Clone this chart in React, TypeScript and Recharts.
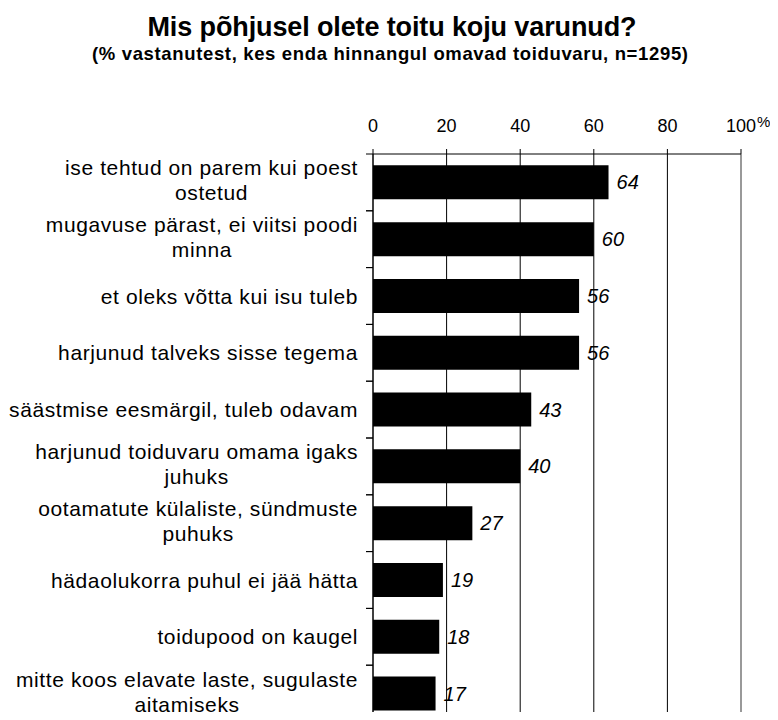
import React from 'react';
import { BarChart, Bar, XAxis, YAxis, CartesianGrid, LabelList, ReferenceLine } from 'recharts';

const titleText = 'Mis põhjusel olete toitu koju varunud?';
const subtitleText = '(% vastanutest, kes enda hinnangul omavad toiduvaru, n=1295)';

const categories: string[][] = [
  ['ise tehtud on parem kui poest', 'ostetud'],
  ['mugavuse pärast, ei viitsi poodi', 'minna'],
  ['et oleks võtta kui isu tuleb'],
  ['harjunud talveks sisse tegema'],
  ['säästmise eesmärgil, tuleb odavam'],
  ['harjunud toiduvaru omama igaks', 'juhuks'],
  ['ootamatute külaliste, sündmuste', 'puhuks'],
  ['hädaolukorra puhul ei jää hätta'],
  ['toidupood on kaugel'],
  ['mitte koos elavate laste, sugulaste', 'aitamiseks'],
];
const values = [64, 60, 56, 56, 43, 40, 27, 19, 18, 17];
const xTicks = [0, 20, 40, 60, 80, 100];
const unitLabel = '%';

const data = categories.map((lines, i) => ({ name: lines.join('\n'), value: values[i] }));

const FONT = '"Liberation Sans", Arial, sans-serif';
const LABEL_SIZE = 21;
const LABEL_LS = 0.6;

const CW = 770;
const CH = 724;
const MT = 116;
const MB = 10;
const XH = 30;
const BAND = (CH - MT - MB - XH) / categories.length;

if (typeof document !== 'undefined') {
  document.documentElement.style.overflow = 'hidden';
}

let ctx: CanvasRenderingContext2D | null = null;
function measure(text: string): number {
  if (!ctx) ctx = document.createElement('canvas').getContext('2d');
  if (!ctx) return text.length * LABEL_SIZE * 0.5;
  ctx.font = `${LABEL_SIZE}px "Liberation Sans"`;
  return ctx.measureText(text).width + LABEL_LS * text.length;
}

const YTick = (props: any) => {
  const x = Number(props.x);
  const y = Number(props.y);
  const lines = String(props.payload.value).split('\n');
  const lh = 25;
  const maxW = Math.max(...lines.map(measure));
  const multi = lines.length > 1;
  const half = BAND / 2;
  return (
    <g>
      <path
        d={`M${x + 8},${y - half}H${x + 15}M${x + 8},${y + half}H${x + 15}`}
        stroke="#000"
        strokeWidth={1}
        fill="none"
      />
      {lines.map((l, i) => (
        <text
          key={i}
          x={multi ? x - maxW / 2 : x}
          y={y + (i - (lines.length - 1) / 2) * lh - (multi ? 2 : 0)}
          dy="0.36em"
          textAnchor={multi ? 'middle' : 'end'}
          fontFamily={FONT}
          fontSize={LABEL_SIZE}
          letterSpacing={LABEL_LS}
          fill="#000"
        >
          {l}
        </text>
      ))}
    </g>
  );
};

export default function App() {
  return (
    <div style={{ position: 'relative', width: CW, height: 704, overflow: 'visible' }}>
      <div style={{ position: 'absolute', left: 0, top: 0 }}>
        <BarChart
          width={CW}
          height={CH}
          data={data}
          layout="vertical"
          margin={{ top: MT, right: 37, bottom: MB, left: 0 }}
          barCategoryGap="20%"
        >
          <CartesianGrid horizontal={false} vertical={true} stroke="#000" />
          <XAxis
            type="number"
            orientation="top"
            domain={[0, 100]}
            ticks={xTicks}
            interval={0}
            height={XH}
            tickSize={5}
            tickMargin={17}
            axisLine={{ stroke: '#000' }}
            tickLine={{ stroke: '#000' }}
            tick={{ fill: '#000', fontSize: 18, fontFamily: FONT }}
          />
          <YAxis
            type="category"
            dataKey="name"
            width={365}
            tickSize={7}
            tickMargin={8}
            tickLine={false}
            axisLine={{ stroke: '#000' }}
            interval={0}
            tick={YTick}
          />
          <ReferenceLine x={100} stroke="#999" strokeWidth={2} />
          <Bar dataKey="value" fill="#000" isAnimationActive={false}>
            <LabelList
              dataKey="value"
              position="right"
              offset={8}
              style={{ fontStyle: 'italic', fontSize: 20, fontFamily: FONT, fill: '#000' }}
            />
          </Bar>
        </BarChart>
      </div>
      <svg width={CW} height={130} style={{ position: 'absolute', left: 0, top: 0, pointerEvents: 'none' }}>
        <text
          x={384}
          y={28}
          textAnchor="middle"
          fontFamily={FONT}
          fontWeight="bold"
          fontSize={27}
          fill="#000"
          textLength={489}
          lengthAdjust="spacing"
        >
          {titleText}
        </text>
        <text
          x={382}
          y={52}
          textAnchor="middle"
          fontFamily={FONT}
          fontWeight="bold"
          fontSize={18.5}
          fill="#000"
          textLength={596}
          lengthAdjust="spacing"
        >
          {subtitleText}
        </text>
        <text x={749} y={119} fontFamily={FONT} fontSize={15} fill="#000">
          {unitLabel}
        </text>
      </svg>
    </div>
  );
}
